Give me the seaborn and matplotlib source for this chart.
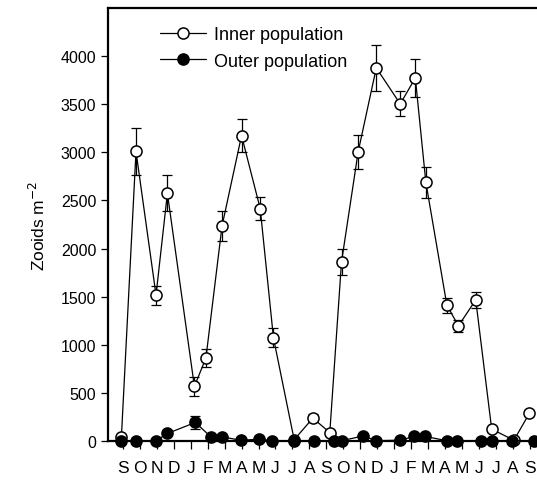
import matplotlib
matplotlib.use("Agg")
import matplotlib.pyplot as plt
import seaborn as sns

# -----------------------------
# Data (months counted from 1 Sep of first year)
# -----------------------------
MONTH_LABELS = list("SONDJFMAMJJASONDJFMAMJJAS")

inner_month = [-0.08, 0.78, 1.96, 2.63, 4.22, 4.9, 5.85, 7.0, 8.1, 8.88,
               10.1, 11.2, 12.2, 12.89, 13.87, 14.94, 16.35, 17.24, 17.86,
               19.1, 19.78, 20.8, 21.74, 23.05, 23.96]
inner_val = [40, 3010, 1515, 2575, 565, 860, 2235, 3175, 2415, 1070,
             10, 235, 85, 1860, 3005, 3880, 3505, 3775, 2690,
             1410, 1195, 1465, 120, 5, 285]
inner_err = [20, 240, 100, 185, 100, 90, 155, 170, 120, 100,
             10, 40, 20, 140, 180, 240, 130, 200, 160,
             80, 60, 80, 25, 10, 30]

outer_month = [-0.08, 0.78, 1.96, 2.63, 4.28, 5.19, 5.85, 6.95, 8.05, 8.78,
               10.09, 11.27, 12.47, 12.9, 14.18, 14.93, 16.34, 17.18, 17.81,
               19.09, 19.72, 21.11, 21.74, 22.92, 24.25]
outer_val = [0, 0, 0, 75, 190, 40, 40, 5, 15, 0,
             0, 0, 0, 0, 50, 0, 5, 45, 45,
             0, 0, 0, 0, 0, 0]
outer_err = [0, 0, 0, 15, 65, 10, 10, 0, 5, 0,
             0, 0, 0, 0, 10, 0, 0, 10, 10,
             0, 0, 0, 0, 0, 0]

# -----------------------------
# Style
# -----------------------------
sns.set_style("ticks")
plt.rcParams["font.family"] = ["Liberation Sans", "DejaVu Sans"]
plt.rcParams["font.size"] = 12
plt.rcParams["text.color"] = "black"
plt.rcParams["axes.labelcolor"] = "black"

fig = plt.figure(figsize=(5.37, 4.81), dpi=100)
ax = fig.add_axes([108 / 537, 39.3 / 481, 1 - 108 / 537, 432.4 / 481])

# error bars first, markers on top
ax.errorbar(inner_month, inner_val, yerr=inner_err, fmt="none",
            ecolor="black", elinewidth=0.9, capsize=3.5, capthick=0.9, zorder=2)
ax.errorbar(outer_month, outer_val, yerr=outer_err, fmt="none",
            ecolor="black", elinewidth=0.9, capsize=3.5, capthick=0.9, zorder=4)

sns.lineplot(x=inner_month, y=inner_val, ax=ax, color="black", linewidth=0.9,
             marker="o", markersize=8, markerfacecolor="white",
             markeredgecolor="black", markeredgewidth=1.1,
             label="Inner population", clip_on=False, zorder=3)
sns.lineplot(x=outer_month, y=outer_val, ax=ax, color="black", linewidth=0.9,
             marker="o", markersize=8, markerfacecolor="black",
             markeredgecolor="black", markeredgewidth=1.1,
             label="Outer population", clip_on=False, zorder=5)

ax.set_xlim(-0.87, 24.41)
ax.set_ylim(0, 4500)
ax.set_xticks(range(len(MONTH_LABELS)))
ax.set_xticklabels(MONTH_LABELS)
ax.set_yticks(range(0, 4001, 500))
ax.set_ylabel("Zooids m$^{-2}$", fontsize=12.5, labelpad=9)
ax.set_xlabel("")

for side in ["left", "bottom", "top"]:
    ax.spines[side].set_linewidth(1.6)
    ax.spines[side].set_color("black")
ax.spines["right"].set_visible(False)
ax.tick_params(axis="y", direction="out", length=5, width=0.9,
               labelsize=11.5, colors="black")
ax.tick_params(axis="x", direction="out", length=6, width=0.9, pad=8,
               labelsize=12.5, colors="black")

leg = ax.legend(loc="upper left", bbox_to_anchor=(0.097, 0.983), frameon=False,
                fontsize=13, handlelength=2.5, handletextpad=0.45,
                labelspacing=0.5, borderaxespad=0.2)

fig.savefig("out.png", dpi=100)
plt.close(fig)
